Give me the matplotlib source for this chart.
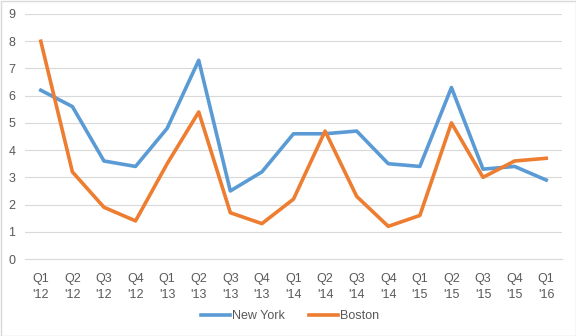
import matplotlib
matplotlib.use("Agg")
import matplotlib.pyplot as plt

quarters = ["Q1\n'12", "Q2\n'12", "Q3\n'12", "Q4\n'12",
            "Q1\n'13", "Q2\n'13", "Q3\n'13", "Q4\n'13",
            "Q1\n'14", "Q2\n'14", "Q3\n'14", "Q4\n'14",
            "Q1\n'15", "Q2\n'15", "Q3\n'15", "Q4\n'15",
            "Q1\n'16"]
new_york = [6.2, 5.6, 3.6, 3.4, 4.8, 7.3, 2.5, 3.2, 4.6, 4.6, 4.7, 3.5, 3.4, 6.3, 3.3, 3.4, 2.9]
boston = [8.0, 3.2, 1.9, 1.4, 3.5, 5.4, 1.7, 1.3, 2.2, 4.7, 2.3, 1.2, 1.6, 5.0, 3.0, 3.6, 3.7]

plt.rcParams['font.family'] = ['Liberation Sans', 'DejaVu Sans']
txt = "#595959"

fig = plt.figure(figsize=(5.76, 3.36), dpi=100)
ax = fig.add_axes([25/576, 1 - 259/336, (562 - 25)/576, (259 - 14)/336])

x = list(range(len(quarters)))
ax.plot(x, new_york, color="#5B9BD5", lw=2.6, label="New York", solid_joinstyle="round")
ax.plot(x, boston, color="#ED7D31", lw=2.6, label="Boston", solid_joinstyle="round")

ax.set_xlim(-0.5, len(quarters) - 0.5)
ax.set_ylim(0, 9)
ax.set_yticks(range(0, 10))
ax.set_xticks(x)
ax.set_xticklabels(quarters, fontsize=9, color=txt, linespacing=1.5)
ax.tick_params(axis="y", labelsize=9, colors=txt, length=0, pad=7)
ax.tick_params(axis="x", length=0, pad=10)
ax.grid(axis="y", color="#D9D9D9", lw=0.8)
ax.set_axisbelow(True)
for s in ["top", "right", "left"]:
    ax.spines[s].set_visible(False)
ax.spines["bottom"].set_color("#D9D9D9")

leg = fig.legend(loc="center", bbox_to_anchor=(290/576, 1 - 316/336), ncol=2,
                 frameon=False, fontsize=9, handlelength=2.3, columnspacing=1.9,
                 handletextpad=0.2)
for t in leg.get_texts():
    t.set_color(txt)

fig.patches.append(plt.Rectangle((0.5/576, 0.5/336), 575/576, 335/336, transform=fig.transFigure,
                                 fill=False, edgecolor="#D9D9D9", lw=1))

fig.savefig("out.png", dpi=100)
